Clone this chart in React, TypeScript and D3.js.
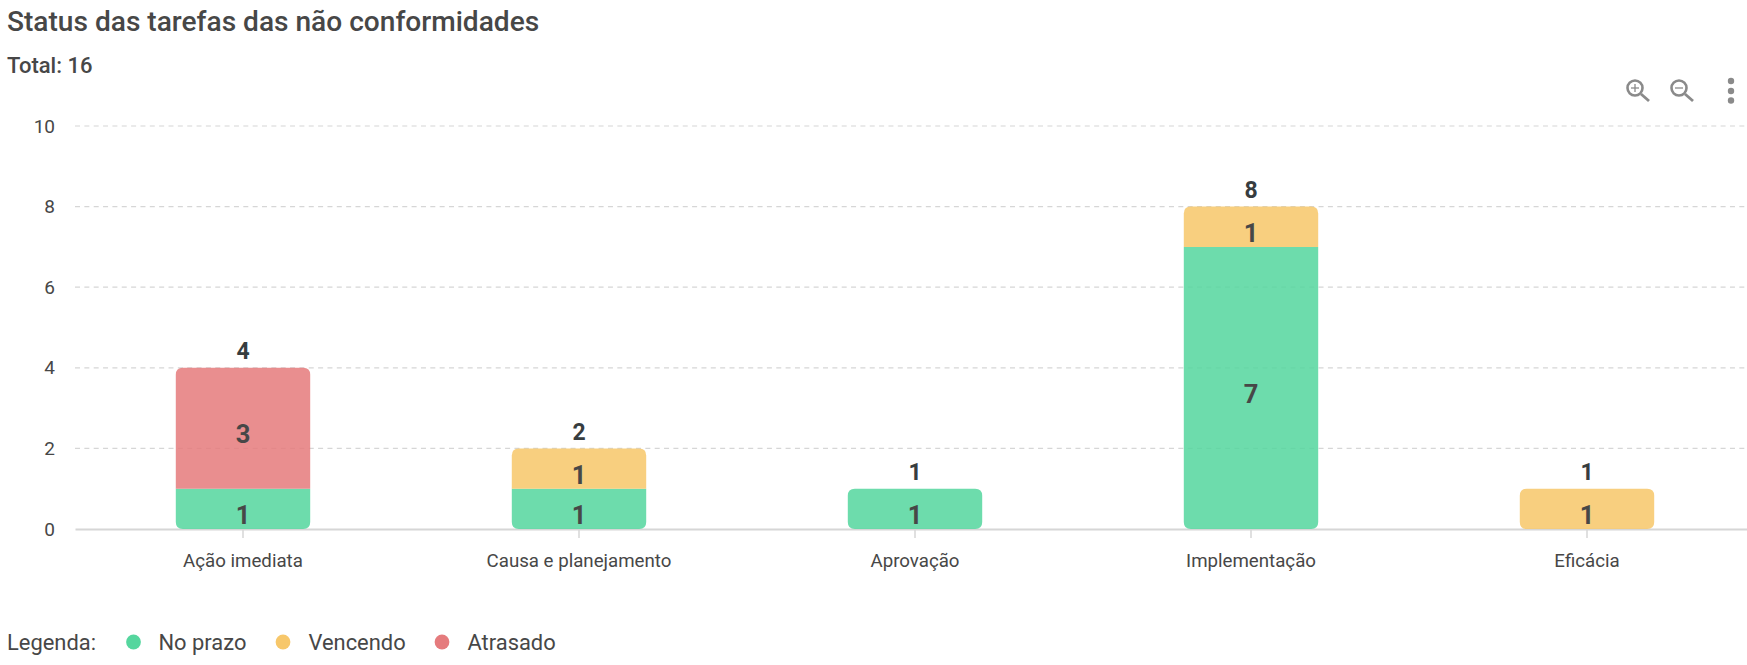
import React, { useEffect, useRef } from 'react';
import * as d3 from 'd3';

const categories = ['Ação imediata', 'Causa e planejamento', 'Aprovação', 'Implementação', 'Eficácia'];
const seriesNames = ['No prazo', 'Vencendo', 'Atrasado'];
const noPrazo = [1, 1, 1, 7, 0];
const vencendo = [0, 1, 0, 1, 1];
const atrasado = [3, 0, 0, 0, 0];
const yTicks = [0, 2, 4, 6, 8, 10];
const colors = ['#55d69e', '#f7c76a', '#e57b7d'];

const width = 1747;
const height = 665;
const textColor = '#474747';
const gridColor = '#d6d6d6';

// rectangle with only the chosen corners rounded
const segmentPath = (x: number, y: number, w: number, h: number, r: number, top: boolean, bottom: boolean) => {
  const p = d3.path();
  const rt = top ? r : 0;
  const rb = bottom ? r : 0;
  p.moveTo(x + rt, y);
  p.lineTo(x + w - rt, y);
  p.quadraticCurveTo(x + w, y, x + w, y + rt);
  p.lineTo(x + w, y + h - rb);
  p.quadraticCurveTo(x + w, y + h, x + w - rb, y + h);
  p.lineTo(x + rb, y + h);
  p.quadraticCurveTo(x, y + h, x, y + h - rb);
  p.lineTo(x, y + rt);
  p.quadraticCurveTo(x, y, x + rt, y);
  p.closePath();
  return p.toString();
};

const App: React.FC = () => {
  const svgRef = useRef<SVGSVGElement>(null);

  useEffect(() => {
    if (!svgRef.current) return;
    const svg = d3.select(svgRef.current);
    svg.selectAll('*').remove();
    svg.append('rect').attr('width', width).attr('height', height).attr('fill', 'white');

    const xScale = d3.scaleBand<string>().domain(categories).range([75, 1755]).paddingInner(0.6).paddingOuter(0.3);
    const yScale = d3.scaleLinear().domain([0, 10]).range([529, 126]);
    const center = (c: string) => (xScale(c) as number) + xScale.bandwidth() / 2;

    // Title and total
    svg.append('text').attr('x', 7).attr('y', 31).text('Status das tarefas das não conformidades')
      .attr('font-size', 28.1).attr('font-weight', 500).attr('fill', textColor);
    svg.append('text').attr('x', 7).attr('y', 73).text('Total: 16')
      .attr('font-size', 22).attr('font-weight', 500).attr('fill', textColor);

    // Grid lines
    svg.append('g')
      .attr('class', 'grid')
      .selectAll('line')
      .data(yTicks.filter(t => t > 0))
      .join('line')
      .attr('x1', 75)
      .attr('x2', width)
      .attr('y1', d => yScale(d))
      .attr('y2', d => yScale(d))
      .attr('stroke', gridColor)
      .attr('stroke-width', 1.2)
      .attr('stroke-dasharray', '5 4.35');

    // Axes
    svg.append('g')
      .attr('transform', 'translate(75,0)')
      .call(d3.axisLeft(yScale).tickValues(yTicks).tickSize(0).tickPadding(20))
      .call(g => g.select('.domain').remove())
      .call(g => g.selectAll('text')
        .attr('font-family', 'Roboto')
        .attr('font-size', 19)
        .attr('fill', textColor));

    svg.append('g')
      .attr('transform', 'translate(0,529)')
      .call(d3.axisBottom(xScale).tickSize(9).tickSizeOuter(0).tickPadding(16))
      .call(g => g.select('.domain').attr('stroke', gridColor).attr('stroke-width', 2))
      .call(g => g.selectAll('line').attr('stroke', gridColor).attr('stroke-width', 1.5))
      .call(g => g.selectAll('text')
        .attr('font-family', 'Roboto')
        .attr('font-size', 18.7)
        .attr('fill', textColor));

    // Stacked bars
    const allSeries = [noPrazo, vencendo, atrasado];
    const bars = svg.append('g').attr('class', 'bars');
    const labels = svg.append('g').attr('class', 'labels');
    categories.forEach((c, i) => {
      const values = allSeries.map(s => s[i]);
      const total = d3.sum(values);
      const firstIdx = values.findIndex(v => v > 0);
      const lastIdx = values.length - 1 - [...values].reverse().findIndex(v => v > 0);
      let base = 0;
      values.forEach((v, s) => {
        if (v > 0) {
          const yTop = yScale(base + v);
          const yBottom = yScale(base);
          bars.append('path')
            .attr('d', segmentPath(xScale(c) as number, yTop, xScale.bandwidth(), yBottom - yTop, 7, s === lastIdx, s === firstIdx))
            .attr('fill', colors[s])
            .attr('fill-opacity', 0.86);
          labels.append('text')
            .attr('x', center(c))
            .attr('y', (yTop + yBottom) / 2 + 15)
            .attr('text-anchor', 'middle')
            .attr('font-size', 25.5)
            .attr('font-weight', 700)
            .attr('fill', textColor)
            .text(v);
        }
        base += v;
      });
      labels.append('text')
        .attr('x', center(c))
        .attr('y', yScale(total) - 8.5)
        .attr('text-anchor', 'middle')
        .attr('font-size', 23)
        .attr('font-weight', 700)
        .attr('fill', '#373d3f')
        .text(total);
    });

    // Legend
    const legendY = 650;
    svg.append('text').attr('x', 7).attr('y', legendY).text('Legenda:')
      .attr('font-size', 21.9).attr('fill', textColor);
    const legendDots = [133.5, 283, 442];
    const legendText = [158.5, 308.5, 467.5];
    seriesNames.forEach((name, i) => {
      svg.append('circle').attr('cx', legendDots[i]).attr('cy', legendY - 8).attr('r', 7.4).attr('fill', colors[i]);
      svg.append('text').attr('x', legendText[i]).attr('y', legendY).text(name)
        .attr('font-size', 21.9).attr('fill', textColor);
    });

    // Toolbar icons
    const icons = svg.append('g').attr('stroke', '#8a8a8a').attr('fill', 'none');
    [1635, 1679].forEach((cx, i) => {
      icons.append('circle').attr('cx', cx).attr('cy', 88).attr('r', 7.5).attr('stroke-width', 2.6);
      icons.append('line').attr('x1', cx + 6).attr('y1', 94).attr('x2', cx + 14).attr('y2', 101).attr('stroke-width', 2.8);
      icons.append('line').attr('x1', cx - 4).attr('y1', 88).attr('x2', cx + 4).attr('y2', 88).attr('stroke-width', 1.3);
      if (i === 0) {
        icons.append('line').attr('x1', cx).attr('y1', 84).attr('x2', cx).attr('y2', 92).attr('stroke-width', 1.3);
      }
    });
    [81, 91, 100.5].forEach(cy => {
      svg.append('circle').attr('cx', 1731).attr('cy', cy).attr('r', 3.2).attr('fill', '#8a8a8a');
    });
  }, []);

  return (
    <svg
      ref={svgRef}
      width={width}
      height={height}
      style={{ position: 'absolute', left: 0, top: 0, fontFamily: 'Roboto' }}
    />
  );
};

export default App;
